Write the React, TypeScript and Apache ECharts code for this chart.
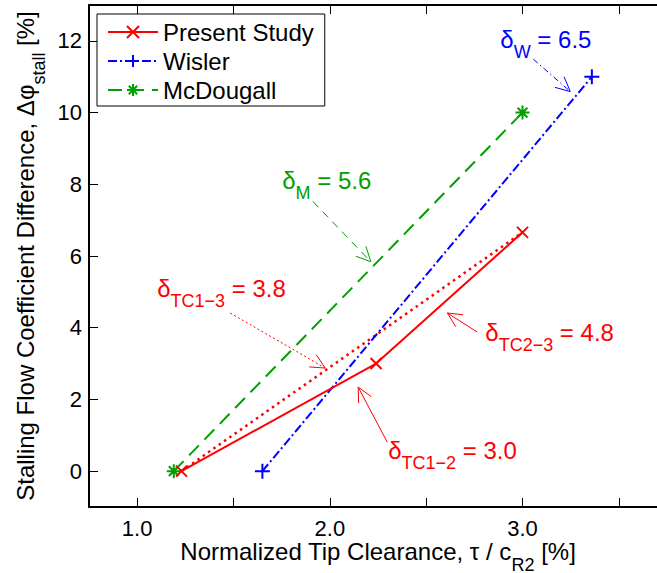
import React, { useEffect, useRef } from "react";
import * as echarts from "echarts";

// ---- data ----
const seriesNames = ["Present Study", "Wisler", "McDougall"];
const presentStudyX = [1.23, 2.24, 3.0];
const presentStudyY = [0, 3.0, 6.66];
const wislerX = [1.65, 3.36];
const wislerY = [0, 11];
const mcDougallX = [1.19, 3.0];
const mcDougallY = [0, 10];
const xTickValues = [1, 1.5, 2, 2.5, 3, 3.5];
const xLabelValues = [1, 2, 3];
const yTickValues = [0, 2, 4, 6, 8, 10, 12];
const deltaSubscripts = ["W", "M", "TC1\u22123", "TC2\u22123", "TC1\u22122"];
const deltaValues = ["6.5", "5.6", "3.8", "4.8", "3.0"];

// ---- layout / style (annotation positions in axis units) ----
const RED = "#ff0000";
const BLUE = "#0000ff";
const GREEN = "#00a000";
const FONT = "'Liberation Sans', Arial, Helvetica, sans-serif";

const annotationLayout = [
  { color: BLUE, text: [2.885, 12.03], from: [3.056, 11.49], to: [3.248, 10.586], dash: [6, 3, 1.5, 3] },
  { color: GREEN, text: [1.753, 8.1], from: [1.912, 7.52], to: [2.213, 5.84], dash: [8, 6] },
  { color: RED, text: [1.104, 5.08], from: [1.483, 4.41], to: [1.976, 2.875], dash: [2, 2.5] },
  { color: RED, text: [2.807, 3.88], from: [2.765, 3.88], to: [2.61, 4.41], dash: null },
  { color: RED, text: [2.303, 0.586], from: [2.298, 0.809], to: [2.147, 2.344], dash: null },
];

const SYM_X = "path://M0,0L10,10M10,0L0,10";
const SYM_PLUS = "path://M5,0L5,10M0,5L10,5";
const SYM_STAR = "path://M5,0L5,10M0,5L10,5M1.5,1.5L8.5,8.5M8.5,1.5L1.5,8.5";

const zip = (xs: number[], ys: number[]) => xs.map((x, i) => [x, ys[i]]);

const richMain = { fontSize: 24, lineHeight: 24, fontFamily: FONT };
const richSub = { fontSize: 18, lineHeight: 12, fontFamily: FONT, padding: [25, 0, 0, 0] };
const richAxisMain = { fontSize: 24, lineHeight: 20, fontFamily: FONT };
const richAxisSub = { fontSize: 18, lineHeight: 12, fontFamily: FONT, padding: [28, 0, 0, 0] };

export default function App() {
  const ref = useRef<HTMLDivElement>(null);
  useEffect(() => {
    if (!ref.current) return;
    const chart = echarts.init(ref.current, undefined, { renderer: "svg" });
    const axisLine = { show: true, onZero: false, lineStyle: { color: "#000", width: 2 } };
    const option: any = {
      animation: false,
      backgroundColor: "#fff",
      grid: { left: 89, top: 5, width: 578, height: 502, containLabel: false, outerBoundsMode: "none" },
      legend: {
        data: seriesNames,
        orient: "vertical",
        left: 97,
        top: 14,
        padding: [6, 11, 4, 10],
        itemGap: 5,
        itemWidth: 50,
        itemHeight: 15,
        backgroundColor: "#fff",
        borderColor: "#000",
        borderWidth: 1,
        borderRadius: 0,
        textStyle: { fontSize: 24, fontFamily: FONT, color: "#000" },
      },
      xAxis: [
        {
          type: "value",
          position: "bottom",
          min: 0.75,
          max: 3.75,
          axisLine,
          splitLine: { show: false },
          axisTick: { show: true, inside: true, length: 9, customValues: xTickValues, lineStyle: { color: "#000", width: 1 } },
          axisLabel: {
            customValues: xLabelValues,
            formatter: (v: number) => v.toFixed(1),
            fontSize: 22,
            fontFamily: FONT,
            color: "#000",
            margin: 10,
          },
          name: "{m|Normalized Tip Clearance, \u03c4 / c}{s|R2}{m| [%]}",
          nameLocation: "middle",
          nameGap: 34,
          nameMoveOverlap: false,
          nameTextStyle: { color: "#000", fontSize: 24, fontFamily: FONT, rich: { m: richAxisMain, s: richAxisSub } },
        },
        {
          type: "value",
          position: "top",
          min: 0.75,
          max: 3.75,
          axisLine,
          splitLine: { show: false },
          axisTick: { show: true, inside: true, length: 9, customValues: xTickValues, lineStyle: { color: "#000", width: 1 } },
          axisLabel: { show: false },
        },
      ],
      yAxis: [
        {
          type: "value",
          position: "left",
          min: -1,
          max: 13,
          axisLine,
          splitLine: { show: false },
          axisTick: { show: true, inside: true, length: 9, customValues: yTickValues, lineStyle: { color: "#000", width: 1 } },
          axisLabel: { customValues: yTickValues, fontSize: 22, fontFamily: FONT, color: "#000", margin: 7 },
          name: "{m|Stalling Flow Coefficient Difference, \u0394\u03c6}{s|stall}{m| [%]}",
          nameLocation: "middle",
          nameRotate: 90,
          nameGap: 54,
          nameMoveOverlap: false,
          nameTextStyle: { color: "#000", fontSize: 24, fontFamily: FONT, rich: { m: richAxisMain, s: richAxisSub } },
        },
        {
          type: "value",
          position: "right",
          min: -1,
          max: 13,
          axisLine,
          splitLine: { show: false },
          axisTick: { show: true, inside: true, length: 9, customValues: yTickValues, lineStyle: { color: "#000", width: 1 } },
          axisLabel: { show: false },
        },
      ],
      series: [
        {
          name: "TC1-3",
          type: "line",
          data: [zip(presentStudyX, presentStudyY)[0], zip(presentStudyX, presentStudyY)[2]],
          showSymbol: false,
          symbol: "none",
          lineStyle: { color: RED, width: 2.5, type: [2.5, 4] },
          itemStyle: { color: RED },
          z: 2,
        },
        {
          name: seriesNames[2],
          type: "line",
          data: zip(mcDougallX, mcDougallY),
          symbol: SYM_STAR,
          symbolSize: 14,
          lineStyle: { color: GREEN, width: 2, type: [14, 8] },
          itemStyle: { color: GREEN, borderColor: GREEN, borderWidth: 2 },
          z: 3,
        },
        {
          name: seriesNames[1],
          type: "line",
          data: zip(wislerX, wislerY),
          symbol: SYM_PLUS,
          symbolSize: 15,
          lineStyle: { color: BLUE, width: 2, type: [9, 3, 2, 3] },
          itemStyle: { color: BLUE, borderColor: BLUE, borderWidth: 2 },
          z: 4,
        },
        {
          name: seriesNames[0],
          type: "line",
          data: zip(presentStudyX, presentStudyY),
          symbol: SYM_X,
          symbolSize: 11,
          lineStyle: { color: RED, width: 2, type: "solid" },
          itemStyle: { color: RED, borderColor: RED, borderWidth: 2 },
          z: 5,
        },
      ],
    };
    chart.setOption(option);

    const toPx = (p: number[]) => chart.convertToPixel({ xAxisIndex: 0, yAxisIndex: 0 }, p) as number[];
    const graphics: any[] = [];
    annotationLayout.forEach((a, i) => {
      const p0 = toPx(a.from);
      const p1 = toPx(a.to);
      const dx = p1[0] - p0[0];
      const dy = p1[1] - p0[1];
      const L = Math.hypot(dx, dy);
      const ux = dx / L;
      const uy = dy / L;
      const ang = (26 * Math.PI) / 180;
      const len = 16;
      const arm = (t: number) => [
        p1[0] - (ux * Math.cos(t) - uy * Math.sin(t)) * len,
        p1[1] - (ux * Math.sin(t) + uy * Math.cos(t)) * len,
      ];
      graphics.push({
        type: "line",
        shape: { x1: p0[0], y1: p0[1], x2: p1[0], y2: p1[1] },
        style: { stroke: a.color, lineWidth: 1, lineDash: a.dash || null },
        z: 10,
      });
      graphics.push({
        type: "polyline",
        shape: { points: [arm(ang), p1, arm(-ang)] },
        style: { stroke: a.color, lineWidth: 1, fill: null },
        z: 10,
      });
      const tp = toPx(a.text);
      graphics.push({
        type: "text",
        x: tp[0],
        y: tp[1],
        z: 10,
        style: {
          text: `{m|\u03b4}{s|${deltaSubscripts[i]}}{m| = ${deltaValues[i]}}`,
          fill: a.color,
          align: "left",
          verticalAlign: "middle",
          textAlign: "left",
          textVerticalAlign: "middle",
          fontSize: 24,
          fontFamily: FONT,
          rich: {
            m: { ...richMain, fill: a.color, color: a.color },
            s: { ...richSub, fill: a.color, color: a.color },
          },
        },
      });
    });
    chart.setOption({ graphic: graphics });

    return () => chart.dispose();
  }, []);

  return (
    <div
      ref={ref}
      style={{ position: "fixed", left: 0, top: 0, width: 657, height: 573, background: "#fff" }}
    />
  );
}
